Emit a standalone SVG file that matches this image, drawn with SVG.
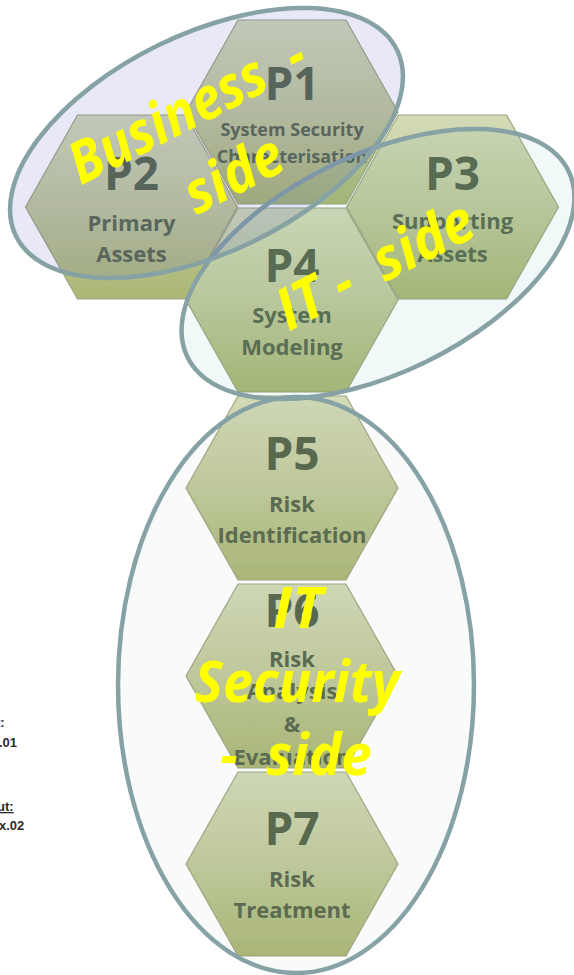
<svg xmlns="http://www.w3.org/2000/svg" xmlns:xlink="http://www.w3.org/1999/xlink" width="574" height="975" viewBox="0 0 574 975">
  <defs>
    <linearGradient id="hexFill" x1="0" y1="0" x2="0" y2="1">
      <stop offset="0" stop-color="#d3dab7"/>
      <stop offset="0.5" stop-color="#c2ca9b"/>
      <stop offset="1" stop-color="#abb774"/>
    </linearGradient>
    <!-- flat-topped hexagon, centred on the origin -->
    <polygon id="hex" points="-106,0 -54,-92 54,-92 106,0 54,92 -54,92"/>
    <style>
      .hex { fill: url(#hexFill); stroke: #9fa47f; stroke-width: 1.2; }
      .pn { font-family: "Open Sans", "Liberation Sans", sans-serif; font-weight: 700; font-size: 46px; fill: #58684c; text-anchor: middle; }
      .sub { font-family: "Open Sans", "Liberation Sans", sans-serif; font-weight: 700; font-size: 22px; fill: #5a6a4f; text-anchor: middle; }
      .sub18 { font-size: 18px; }
      .zone { stroke: #86a2a5; stroke-width: 4.5; }
      .label { font-family: "Open Sans", "Liberation Sans", sans-serif; font-weight: 700; font-style: italic; font-size: 58px; fill: #ffff00; text-anchor: middle; }
      .note { font-family: "Liberation Sans", "Open Sans", sans-serif; font-weight: 700; font-size: 13px; fill: #2b2b2b; }
    </style>
  </defs>

  <!-- process hexagons -->
  <g id="nodes">
    <g id="p1" transform="translate(292,112)">
      <use xlink:href="#hex" class="hex"/>
      <text class="pn" y="-12">P1</text>
      <text class="sub sub18" y="24">System Security</text>
      <text class="sub sub18" y="51">Characterisation</text>
    </g>
    <g id="p2" transform="translate(131.5,207)">
      <use xlink:href="#hex" class="hex"/>
      <text class="pn" y="-17">P2</text>
      <text class="sub" y="24">Primary</text>
      <text class="sub" y="55">Assets</text>
    </g>
    <g id="p3" transform="translate(452.5,207)">
      <use xlink:href="#hex" class="hex"/>
      <text class="pn" y="-17">P3</text>
      <text class="sub" y="22">Supporting</text>
      <text class="sub" y="55">Assets</text>
    </g>
    <g id="p4" transform="translate(292,300)">
      <use xlink:href="#hex" class="hex"/>
      <text class="pn" y="-18">P4</text>
      <text class="sub" y="23">System</text>
      <text class="sub" y="55">Modeling</text>
    </g>
    <g id="p5" transform="translate(292,488)">
      <use xlink:href="#hex" class="hex"/>
      <text class="pn" y="-18">P5</text>
      <text class="sub" y="24">Risk</text>
      <text class="sub" y="55">Identification</text>
    </g>
    <g id="p6" transform="translate(292,676)">
      <use xlink:href="#hex" class="hex"/>
      <text class="pn" y="-49">P6</text>
      <text class="sub" y="-9">Risk</text>
      <text class="sub" y="23">Analysis</text>
      <text class="sub" y="56">&amp;</text>
      <text class="sub" y="89">Evaluation</text>
    </g>
    <g id="p7" transform="translate(292,864)">
      <use xlink:href="#hex" class="hex"/>
      <text class="pn" y="-19">P7</text>
      <text class="sub" y="23">Risk</text>
      <text class="sub" y="54">Treatment</text>
    </g>
  </g>

  <!-- grouping zones -->
  <g id="zones">
    <ellipse class="zone" cx="296" cy="685" rx="178" ry="288" fill="#6a9a9a" fill-opacity="0.04"/>
    <ellipse class="zone" cx="378" cy="264" rx="212" ry="109" transform="rotate(-26 378 264)" fill="#4aa0a0" fill-opacity="0.08"/>
    <ellipse class="zone" cx="206.5" cy="143" rx="212" ry="109" transform="rotate(-26 206.5 143)" fill="#5050c0" fill-opacity="0.13"/>
  </g>

  <!-- zone labels -->
  <g id="labels">
    <g transform="translate(196,127) rotate(-27)">
      <text class="label" y="0" textLength="258" lengthAdjust="spacingAndGlyphs" xml:space="preserve">Business  -</text>
      <text class="label" x="12" y="79" textLength="104" lengthAdjust="spacingAndGlyphs">side</text>
    </g>
    <text class="label" transform="translate(384,283) rotate(-27)" textLength="214" lengthAdjust="spacingAndGlyphs" xml:space="preserve">IT -  side</text>
    <text class="label" x="298" y="628">IT</text>
    <text class="label" x="297" y="702" textLength="205" lengthAdjust="spacingAndGlyphs">Security</text>
    <text class="label" x="296" y="775" textLength="152" lengthAdjust="spacingAndGlyphs" xml:space="preserve">-  side</text>
  </g>

  <!-- notes cut by the left edge -->
  <g id="notes">
    <text class="note" x="-4" y="727">t:</text>
    <text class="note" x="-1" y="747">.01</text>
    <text class="note" x="-3" y="811" text-decoration="underline">ut:</text>
    <text class="note" x="-1" y="830">x.02</text>
  </g>
</svg>
